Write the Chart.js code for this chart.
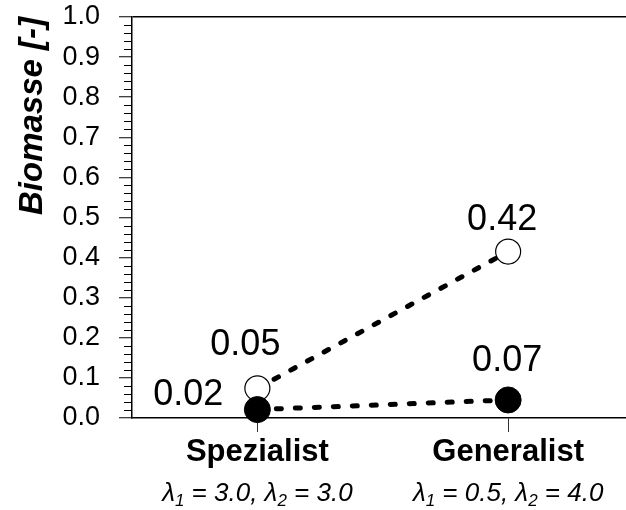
<!DOCTYPE html>
<html>
<head>
<meta charset="utf-8">
<script src="https://cdn.jsdelivr.net/npm/chart.js@4.4.1/dist/chart.umd.min.js"></script>
<style>
body { margin: 0; background: #fff; }
#chart { display: block; }
</style>
</head>
<body>
<canvas id="chart" width="626" height="510"></canvas>
<script>
// data
const categories = ['Spezialist', 'Generalist'];
const categoryX = [1, 3];
const lambda1 = ['3.0', '0.5'];
const lambda2 = ['3.0', '4.0'];
const openValues = [0.074, 0.415];
const filledValues = [0.021, 0.045];
const openLabels = ['0.05', '0.42'];
const filledLabels = ['0.02', '0.07'];
const yMin = 0, yMax = 1, yStep = 0.1, yMinorStep = 0.02;
const yTitle = 'Biomasse [-]';

const FONT = "'Liberation Sans', Arial, sans-serif";

// where each value label sits relative to its point
const labelPlacement = {
	filled: [{ dx: -34, dy: -15, align: 'right' }, { dx: -1, dy: -39, align: 'center' }],
	open: [{ dx: -12, dy: -43, align: 'center' }, { dx: -6, dy: -32, align: 'center' }]
};

function points(values)
{
	return values.map(function (v, i) { return { x: categoryX[i], y: v }; });
}

function noScalePadding(scale)
{
	scale.paddingTop = 0;
	scale.paddingBottom = 0;
	scale.paddingLeft = 0;
	scale.paddingRight = 0;
}

const extrasPlugin = {
	id: 'extras',
	afterDraw: function (chart)
	{
		const ctx = chart.ctx;
		const ys = chart.scales.y;
		const xs = chart.scales.x;
		ctx.save();

		// minor ticks on the y axis
		ctx.strokeStyle = '#000';
		ctx.lineWidth = 1;
		const axisX = ys.right;
		for (let v = yMin; v <= yMax + 1e-9; v += yMinorStep)
		{
			const r = Math.round(v / yStep * 1000) / 1000;
			if (Math.abs(r - Math.round(r)) < 1e-6) continue;
			const py = Math.round(ys.getPixelForValue(v)) + 0.5;
			ctx.beginPath();
			ctx.moveTo(axisX - 8, py);
			ctx.lineTo(axisX, py);
			ctx.stroke();
		}

		// value labels
		ctx.fillStyle = '#000';
		ctx.font = '36px ' + FONT;
		ctx.textBaseline = 'middle';
		[['filled', 0, filledLabels], ['open', 1, openLabels]].forEach(function (s)
		{
			const meta = chart.getDatasetMeta(s[1]);
			meta.data.forEach(function (pt, i)
			{
				const p = labelPlacement[s[0]][i];
				ctx.textAlign = p.align;
				ctx.fillText(s[2][i], pt.x + p.dx, pt.y + p.dy);
			});
		});

		// lambda line under each category
		ctx.textAlign = 'left';
		ctx.textBaseline = 'alphabetic';
		categoryX.forEach(function (xv, i)
		{
			const parts = [
				['\u03BB', false], ['1', true], [' = ' + lambda1[i] + ', \u03BB', false], ['2', true], [' = ' + lambda2[i], false]
			];
			const big = 'italic 26px ' + FONT;
			const small = 'italic 17px ' + FONT;
			let total = 0;
			parts.forEach(function (p)
			{
				ctx.font = p[1] ? small : big;
				total += ctx.measureText(p[0]).width;
			});
			let x = xs.getPixelForValue(xv) - total / 2;
			const base = 501;
			parts.forEach(function (p)
			{
				ctx.font = p[1] ? small : big;
				ctx.fillText(p[0], x, p[1] ? base + 5 : base);
				x += ctx.measureText(p[0]).width;
			});
		});

		// y axis title
		ctx.translate(42, 116);
		ctx.rotate(-Math.PI / 2);
		ctx.font = 'italic bold 33px ' + FONT;
		ctx.textAlign = 'center';
		ctx.textBaseline = 'alphabetic';
		ctx.fillText(yTitle, 0, 0);

		ctx.restore();
	}
};

new Chart(document.getElementById('chart'), {
	type: 'line',
	data: {
		datasets: [{
			label: 'filled',
			data: points(filledValues),
			borderColor: '#000',
			borderWidth: 5,
			borderDash: [5, 14],
			borderCapStyle: 'round',
			pointRadius: 13,
			pointBackgroundColor: '#000',
			pointBorderColor: '#000',
			pointBorderWidth: 1,
			clip: false
		}, {
			label: 'open',
			data: points(openValues),
			borderColor: '#000',
			borderWidth: 5,
			borderDash: [5, 14],
			borderCapStyle: 'round',
			pointRadius: 12.5,
			pointBackgroundColor: '#fff',
			pointBorderColor: '#000',
			pointBorderWidth: 1.2,
			clip: false
		}]
	},
	options: {
		responsive: false,
		animation: false,
		layout: { autoPadding: false, padding: { top: 17, left: 0, right: 0, bottom: 0 } },
		plugins: { legend: { display: false }, tooltip: { enabled: false } },
		scales: {
			x: {
				type: 'linear',
				min: 0,
				max: 3.94,
				afterFit: function (scale) { scale.height = 92; noScalePadding(scale); },
				afterBuildTicks: function (scale)
				{
					scale.ticks = categoryX.map(function (v) { return { value: v }; });
				},
				border: { color: '#000', width: 1.5 },
				grid: { drawOnChartArea: false, tickLength: 14, tickColor: '#333', tickWidth: 1 },
				ticks: {
					color: '#000',
					padding: 2,
					autoSkip: false,
					maxRotation: 0,
					font: { family: FONT, size: 31, weight: 'bold' },
					callback: function (value)
					{
						return categories[categoryX.indexOf(value)];
					}
				}
			},
			y: {
				min: yMin,
				max: yMax,
				afterFit: function (scale) { scale.width = 132; noScalePadding(scale); },
				border: { color: '#000', width: 1.5 },
				grid: {
					tickLength: 13,
					tickColor: '#000',
					tickWidth: 1,
					color: function (c)
					{
						return c.tick && Math.abs(c.tick.value - yMax) < 1e-6 ? '#000' : 'rgba(0,0,0,0)';
					},
					lineWidth: 1.5
				},
				ticks: {
					stepSize: yStep,
					color: '#000',
					padding: 19,
					font: { family: FONT, size: 27 },
					callback: function (v) { return v.toFixed(1); }
				}
			}
		}
	},
	plugins: [extrasPlugin]
});
</script>
</body>
</html>
